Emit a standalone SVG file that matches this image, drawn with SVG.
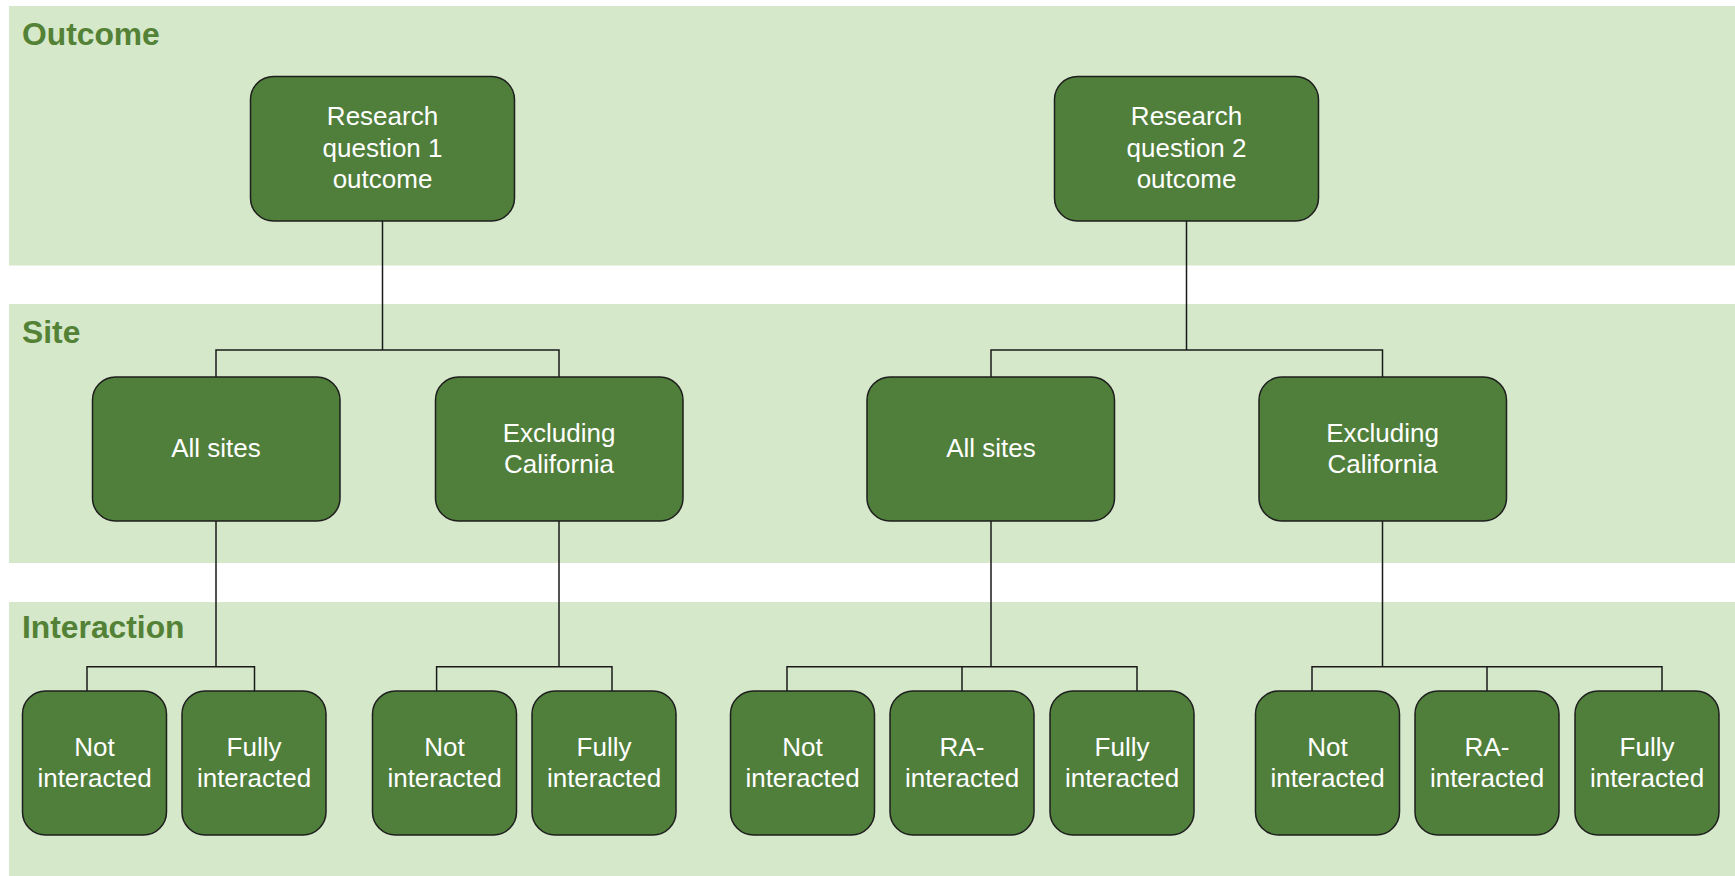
<svg xmlns="http://www.w3.org/2000/svg" width="1735" height="876" viewBox="0 0 1735 876">
<style>
.band{fill:#D5E8CA}
.lbl{font-family:"Liberation Sans",Arial,sans-serif;font-weight:bold;font-size:31.8px;fill:#538135}
.box{fill:#507E3B;stroke:#1E1E1E;stroke-width:1.5}
.t{font-family:"Liberation Sans",Arial,sans-serif;font-size:26px;fill:#FFFFFF;text-anchor:middle}
.c{fill:none;stroke:#1A1A1A;stroke-width:1.5}
</style>
<rect width="1735" height="876" fill="#FFFFFF"/>
<g id="bands">
<rect class="band" x="9" y="6" width="1726" height="259.5"/>
<rect class="band" x="9" y="304" width="1726" height="259"/>
<rect class="band" x="9" y="602" width="1726" height="274"/>
<text class="lbl" x="22" y="44.5">Outcome</text>
<text class="lbl" x="22" y="342.5">Site</text>
<text class="lbl" x="22" y="637.5">Interaction</text>
</g>
<g id="connectors">
<path class="c" d="M382.5,221 V350 M216,377 V350 H559 V377"/>
<path class="c" d="M1186.5,221 V350 M991,377 V350 H1382.5 V377"/>
<path class="c" d="M216,521 V666.7 M87,691 V666.7 H254.5 V691"/>
<path class="c" d="M559,521 V666.7 M436.6,691 V666.7 H612 V691"/>
<path class="c" d="M991,521 V666.7 M787,691 V666.7 H1137 V691 M962,666.7 V691"/>
<path class="c" d="M1382.5,521 V666.7 M1312,691 V666.7 H1662 V691 M1487,666.7 V691"/>
</g>
<g id="rq1"><rect class="box" x="250.5" y="76.5" width="264" height="144.5" rx="23"/>
<text class="t" x="382.5" y="125">Research</text><text class="t" x="382.5" y="156.5">question 1</text><text class="t" x="382.5" y="188">outcome</text></g>
<g id="rq2"><rect class="box" x="1054.5" y="76.5" width="264" height="144.5" rx="23"/>
<text class="t" x="1186.5" y="125">Research</text><text class="t" x="1186.5" y="156.5">question 2</text><text class="t" x="1186.5" y="188">outcome</text></g>
<g id="site1-all"><rect class="box" x="92.5" y="377" width="247.5" height="144" rx="23"/>
<text class="t" x="216" y="457">All sites</text></g>
<g id="site1-excl"><rect class="box" x="435.5" y="377" width="247.5" height="144" rx="23"/>
<text class="t" x="559" y="442">Excluding</text><text class="t" x="559" y="473">California</text></g>
<g id="site2-all"><rect class="box" x="867" y="377" width="247.5" height="144" rx="23"/>
<text class="t" x="991" y="457">All sites</text></g>
<g id="site2-excl"><rect class="box" x="1259" y="377" width="247.5" height="144" rx="23"/>
<text class="t" x="1382.5" y="442">Excluding</text><text class="t" x="1382.5" y="473">California</text></g>
<g id="i1-not"><rect class="box" x="22.5" y="691" width="144" height="144" rx="23"/>
<text class="t" x="94.5" y="756">Not</text><text class="t" x="94.5" y="787">interacted</text></g>
<g id="i1-fully"><rect class="box" x="182" y="691" width="144" height="144" rx="23"/>
<text class="t" x="254" y="756">Fully</text><text class="t" x="254" y="787">interacted</text></g>
<g id="i2-not"><rect class="box" x="372.5" y="691" width="144" height="144" rx="23"/>
<text class="t" x="444.5" y="756">Not</text><text class="t" x="444.5" y="787">interacted</text></g>
<g id="i2-fully"><rect class="box" x="532" y="691" width="144" height="144" rx="23"/>
<text class="t" x="604" y="756">Fully</text><text class="t" x="604" y="787">interacted</text></g>
<g id="i3-not"><rect class="box" x="730.5" y="691" width="144" height="144" rx="23"/>
<text class="t" x="802.5" y="756">Not</text><text class="t" x="802.5" y="787">interacted</text></g>
<g id="i3-ra"><rect class="box" x="890" y="691" width="144" height="144" rx="23"/>
<text class="t" x="962" y="756">RA-</text><text class="t" x="962" y="787">interacted</text></g>
<g id="i3-fully"><rect class="box" x="1050" y="691" width="144" height="144" rx="23"/>
<text class="t" x="1122" y="756">Fully</text><text class="t" x="1122" y="787">interacted</text></g>
<g id="i4-not"><rect class="box" x="1255.5" y="691" width="144" height="144" rx="23"/>
<text class="t" x="1327.5" y="756">Not</text><text class="t" x="1327.5" y="787">interacted</text></g>
<g id="i4-ra"><rect class="box" x="1415" y="691" width="144" height="144" rx="23"/>
<text class="t" x="1487" y="756">RA-</text><text class="t" x="1487" y="787">interacted</text></g>
<g id="i4-fully"><rect class="box" x="1575" y="691" width="144" height="144" rx="23"/>
<text class="t" x="1647" y="756">Fully</text><text class="t" x="1647" y="787">interacted</text></g>
</svg>
